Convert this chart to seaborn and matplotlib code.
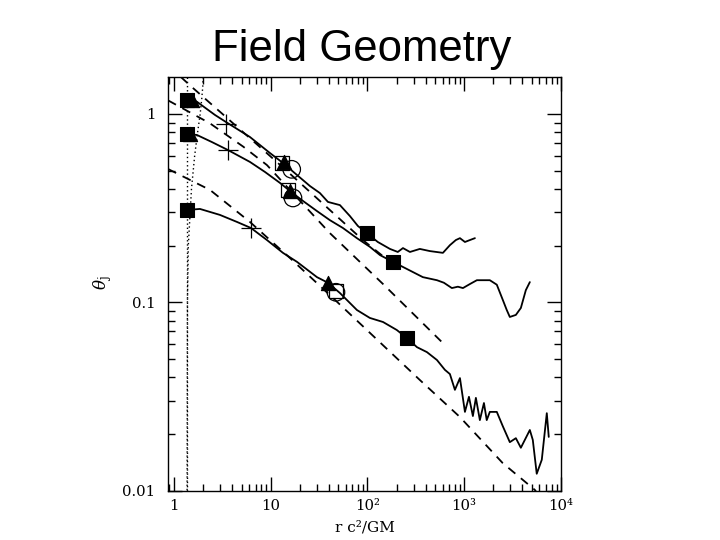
import numpy as np
import pandas as pd
import matplotlib
matplotlib.use('Agg')
import matplotlib.pyplot as plt
import seaborn as sns
from matplotlib.ticker import LogLocator, FixedLocator, FixedFormatter, NullFormatter

# field lines, radius r c^2/GM and opening angle theta_j
top_r = [1.365, 1.73, 2.66, 3.45, 6.11, 9.83, 13.4, 18.7, 25.5, 32.3, 39.1, 52.0, 65.9, 79.8, 98.9,
         128, 171, 206, 233, 275, 348, 442, 603, 712, 820, 904, 1018, 1146, 1291]
top_th = [1.20, 1.16, 0.987, 0.906, 0.754, 0.620, 0.549, 0.474, 0.414, 0.380, 0.341, 0.328, 0.287, 0.254, 0.233,
          0.209, 0.192, 0.185, 0.194, 0.185, 0.192, 0.187, 0.183, 0.201, 0.214, 0.219, 0.209, 0.214, 0.219]

mid_r = [1.40, 1.73, 2.47, 3.62, 6.11, 8.73, 12.5, 15.8, 21.6, 30.1, 40.9, 55.8, 77.9, 106, 135, 183, 233,
         374, 523, 617, 746, 861, 971, 1146, 1352, 1841, 2173, 2506, 2754, 2962, 3420, 3852, 4336, 4770]
mid_th = [0.782, 0.773, 0.709, 0.643, 0.556, 0.492, 0.430, 0.390, 0.345, 0.305, 0.273, 0.248, 0.219, 0.197,
          0.178, 0.164, 0.154, 0.136, 0.131, 0.127, 0.119, 0.121, 0.119, 0.125, 0.131, 0.131, 0.124, 0.103,
          0.0910, 0.0836, 0.0857, 0.0933, 0.116, 0.128]

bot_r = [1.365, 1.86, 2.99, 4.49, 6.26, 9.16, 13.4, 18.7, 30.1, 39.1, 52.0, 77.9, 106, 145, 201, 256, 325,
         412, 523, 632, 712, 802, 904, 1018, 1120, 1230, 1321, 1452, 1600, 1710, 1841, 2173, 2506, 2962,
         3420, 3852, 4770, 5117, 5620, 6339, 7140, 7480]
bot_th = [0.309, 0.313, 0.291, 0.267, 0.248, 0.214, 0.183, 0.164, 0.136, 0.127, 0.112, 0.0910, 0.0826, 0.0786,
          0.0713, 0.0646, 0.0578, 0.0544, 0.0494, 0.0438, 0.0416, 0.0343, 0.0396, 0.0262, 0.0315, 0.0249,
          0.0311, 0.0237, 0.0292, 0.0237, 0.0262, 0.0262, 0.0220, 0.0181, 0.0190, 0.0169, 0.0210, 0.0186,
          0.0123, 0.0146, 0.0258, 0.0193]

# paraboloidal fits (dashed)
dtop_r = [1.18, 1.53, 3.45, 7.75, 15.1, 40.9, 89.8, 171]
dtop_th = [1.57, 1.39, 0.963, 0.667, 0.492, 0.309, 0.214, 0.164]
dmid_r = [0.87, 2.36, 5.21, 9.16, 15.8, 40.9, 145, 632]
dmid_th = [1.18, 0.891, 0.670, 0.535, 0.395, 0.233, 0.125, 0.0593]
dbot_r = [0.87, 2.36, 6.11, 15.8, 46.2, 348, 904, 2506, 5370, 6500]
dbot_th = [0.51, 0.395, 0.267, 0.172, 0.103, 0.0387, 0.0246, 0.0140, 0.0101, 0.0088]

# horizon and ergosphere (dotted)
horizon_r = 1.36
ergo_th = [1.57, 1.4, 1.2, 1.0, 0.8, 0.6, 0.4, 0.2, 0.1, 0.01]
ergo_r = [2.0, 1.99, 1.94, 1.87, 1.76, 1.64, 1.52, 1.41, 1.38, 1.37]

# markers
fsq_r = [1.36, 1.38, 1.36, 99, 183, 254]
fsq_th = [1.19, 0.78, 0.309, 0.233, 0.164, 0.0649]
tri_r = [1.55, 1.46, 13.7, 15.8, 38.8]
tri_th = [1.18, 0.78, 0.555, 0.39, 0.126]
osq_r = [13.0, 15.2, 47.3]
osq_th = [0.551, 0.395, 0.115]
circ_r = [16.5, 17.0, 47.3]
circ_th = [0.508, 0.358, 0.113]
cross_r = [3.45, 3.60, 6.21]
cross_th = [0.887, 0.645, 0.247]

sns.set_style('ticks')
plt.rcParams['font.family'] = ['DejaVu Serif']
plt.rcParams['mathtext.fontset'] = 'dejavuserif'
plt.rcParams['text.color'] = 'black'
plt.rcParams['axes.labelcolor'] = 'black'
plt.rcParams['xtick.color'] = 'black'
plt.rcParams['ytick.color'] = 'black'

fig = plt.figure(figsize=(7.2, 5.4), dpi=100)
ax = fig.add_axes([0.2333, 0.0913, 0.5458, 0.7667])
ax.set_xscale('log')
ax.set_yscale('log')

for r, th in [(top_r, top_th), (mid_r, mid_th), (bot_r, bot_th)]:
    sns.lineplot(x=r, y=th, sort=False, estimator=None, color='black', lw=1.3, ax=ax)
for r, th in [(dtop_r, dtop_th), (dmid_r, dmid_th), (dbot_r, dbot_th)]:
    sns.lineplot(x=r, y=th, sort=False, estimator=None, color='black', lw=1.3,
                 linestyle=(0, (5, 4)), ax=ax)
ax.axvline(horizon_r, color='black', lw=1.0, linestyle=(0, (1, 2)))
sns.lineplot(x=ergo_r, y=ergo_th, sort=False, estimator=None, color='black', lw=1.0,
             linestyle=(0, (1, 2)), ax=ax)

sns.scatterplot(x=fsq_r, y=fsq_th, marker='s', s=95, color='black', edgecolor='black', ax=ax, zorder=5)
sns.scatterplot(x=tri_r, y=tri_th, marker='^', s=105, color='black', edgecolor='black', ax=ax, zorder=5)
sns.scatterplot(x=osq_r, y=osq_th, marker='s', s=100, facecolor='none', edgecolor='black',
                linewidth=0.9, ax=ax, zorder=4)
sns.scatterplot(x=circ_r, y=circ_th, marker='o', s=160, facecolor='none', edgecolor='black',
                linewidth=0.9, ax=ax, zorder=4)
sns.scatterplot(x=cross_r, y=cross_th, marker='+', s=190, color='black', linewidth=0.9, ax=ax, zorder=4)

ax.set_xlim(0.869, 1e4)
ax.set_ylim(0.01, 1.576)

ax.xaxis.set_major_locator(FixedLocator([1, 10, 100, 1000, 10000]))
ax.xaxis.set_major_formatter(FixedFormatter(['1', '10', '10²', '10³', '10⁴']))
ax.xaxis.set_minor_locator(LogLocator(base=10, subs=np.arange(2, 10), numticks=20))
ax.xaxis.set_minor_formatter(NullFormatter())
ax.yaxis.set_major_locator(FixedLocator([0.01, 0.1, 1]))
ax.yaxis.set_major_formatter(FixedFormatter(['0.01', '0.1', '1']))
ax.yaxis.set_minor_locator(LogLocator(base=10, subs=np.arange(2, 10), numticks=20))
ax.yaxis.set_minor_formatter(NullFormatter())

ax.tick_params(which='both', direction='in', top=True, right=True, color='black', width=1.0)
ax.tick_params(which='major', length=10)
ax.tick_params(which='minor', length=5)
ax.tick_params(axis='x', which='major', pad=6, labelsize=10.7)
ax.tick_params(axis='y', which='major', pad=9, labelsize=10.7)
for sp in ax.spines.values():
    sp.set_color('black')
    sp.set_linewidth(1.0)

ax.set_xlabel('r c²/GM', fontsize=11)
ax.xaxis.set_label_coords(0.501, -0.073)
ax.set_ylabel(r'$\theta_{\rm j}$', fontsize=12)
ax.yaxis.set_label_coords(-0.137, 0.502)

fig.text(0.502, 0.887, 'Field Geometry', fontsize=31.5, family='Liberation Sans',
         color='black', ha='center', va='baseline')

fig.savefig('out.png', dpi=100)
